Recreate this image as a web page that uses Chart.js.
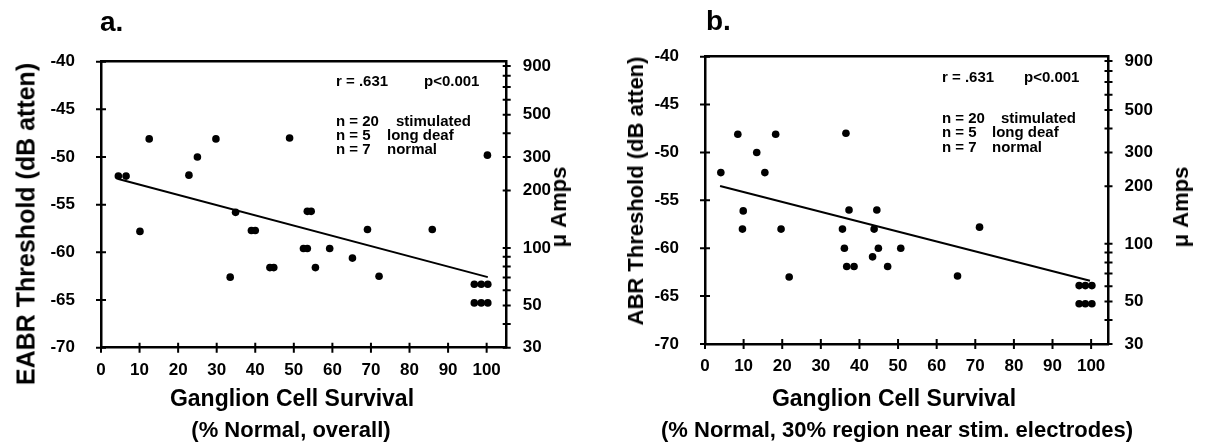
<!DOCTYPE html>
<html>
<head>
<meta charset="utf-8">
<script src="https://cdn.jsdelivr.net/npm/chart.js@4/dist/chart.umd.min.js"></script>
<style>
  body { margin: 0; background: #fff; width: 1209px; height: 446px; overflow: hidden; position: relative;
         font-family: 'Liberation Sans', Arial, sans-serif; font-weight: bold; color: #000; }
  canvas { position: absolute; top: 0; }
  .t { position: absolute; white-space: nowrap; line-height: 1; }
  .c { transform: translate(-50%, -50%); }
  .l { transform: translateY(-50%); }
  .rot { transform: translate(-50%, -50%) rotate(-90deg); }
  .ann { font-size: 15px; }
</style>
</head>
<body>
<canvas id="chartA" width="604" height="446" style="left:0"></canvas>
<canvas id="chartB" width="605" height="446" style="left:604px"></canvas>

<!-- panel a texts -->
<div class="t l" style="left:100px; top:22px; font-size:28px">a.</div>
<div class="t rot" style="left:26px; top:224px; font-size:25px">EABR Threshold (dB atten)</div>
<div class="t rot" style="left:559px; top:207px; font-size:22px">μ Amps</div>
<div class="t c" style="left:292px; top:398px; font-size:23px">Ganglion Cell Survival</div>
<div class="t c" style="left:291px; top:430px; font-size:22px">(% Normal, overall)</div>
<div class="t l ann" style="left:336px; top:80px">r = .631</div>
<div class="t l ann" style="left:424px; top:80px">p&lt;0.001</div>
<div class="t l ann" style="left:336px; top:120px">n = 20</div>
<div class="t l ann" style="left:396px; top:120px">stimulated</div>
<div class="t l ann" style="left:336px; top:134px">n = 5</div>
<div class="t l ann" style="left:387px; top:134px">long deaf</div>
<div class="t l ann" style="left:336px; top:148px">n = 7</div>
<div class="t l ann" style="left:387px; top:148px">normal</div>

<!-- panel b texts -->
<div class="t l" style="left:706px; top:21px; font-size:28px">b.</div>
<div class="t rot" style="left:636px; top:191px; font-size:22px">ABR Threshold (dB atten)</div>
<div class="t rot" style="left:1181px; top:207px; font-size:22px">μ Amps</div>
<div class="t c" style="left:894px; top:398px; font-size:23px">Ganglion Cell Survival</div>
<div class="t c" style="left:897px; top:430px; font-size:22px">(% Normal, 30% region near stim. electrodes)</div>
<div class="t l ann" style="left:942px; top:76px">r = .631</div>
<div class="t l ann" style="left:1024px; top:76px">p&lt;0.001</div>
<div class="t l ann" style="left:942px; top:117px">n = 20</div>
<div class="t l ann" style="left:1001px; top:117px">stimulated</div>
<div class="t l ann" style="left:942px; top:131px">n = 5</div>
<div class="t l ann" style="left:992px; top:131px">long deaf</div>
<div class="t l ann" style="left:942px; top:146px">n = 7</div>
<div class="t l ann" style="left:992px; top:146px">normal</div>

<script>
// ticks
const xTicks = [0, 10, 20, 30, 40, 50, 60, 70, 80, 90, 100];
const dbTicks = [-70, -65, -60, -55, -50, -45, -40];
const ampTicks = [30, 40, 50, 60, 70, 80, 90, 100, 200, 300, 400, 500, 600, 700, 800, 900];
const ampLabels = [30, 50, 100, 200, 300, 500, 900];

// panel a: overall survival vs EABR threshold
const aSurvival = [4.5, 6.5, 12.5, 29.8, 48.9, 25.0, 22.8, 34.9, 53.5, 54.5, 10.1, 39.0, 40.0, 33.5,
  43.8, 44.8, 52.5, 53.5, 59.3, 55.6, 65.2, 69.1, 72.1, 85.9, 96.8, 98.6, 100.3, 96.8, 98.6, 100.3, 100.2];
const aThreshold = [-52.0, -52.0, -48.1, -48.1, -48.0, -50.0, -51.9, -55.8, -55.7, -55.7, -57.8, -57.7, -57.7, -62.6,
  -61.6, -61.6, -59.6, -59.6, -59.6, -61.6, -60.6, -57.6, -62.5, -57.6, -63.35, -63.35, -63.35, -65.3, -65.3, -65.3, -49.8];
const aFitX = [4.5, 100.3];
const aFitY = [-52.3, -62.6];

// panel b: survival in 30% region near electrodes
const bSurvival = [4.1, 8.5, 18.3, 36.5, 13.4, 15.5, 9.9, 37.3, 44.5, 9.7, 19.7, 35.6, 43.8, 21.8, 36.1,
  36.7, 38.6, 43.4, 44.9, 47.3, 50.7, 65.4, 71.1, 96.9, 98.5, 100.2, 96.9, 98.5, 100.2];
const bThreshold = [-52.1, -48.1, -48.1, -48.0, -50.0, -52.1, -56.1, -56.0, -56.0, -58.0, -58.0, -58.0, -58.0, -63.0, -60.0,
  -61.9, -61.9, -60.9, -60.0, -61.9, -60.0, -62.9, -57.8, -63.9, -63.9, -63.9, -65.8, -65.8, -65.8];
const bFitX = [3.9, 99.7];
const bFitY = [-53.5, -63.4];

const FONT = { family: "'Liberation Sans', Arial, sans-serif", weight: 'bold', size: 17 };

// tick marks that cross the axis line, like the original figure
const crossTicks = {
  id: 'crossTicks',
  afterDraw(chart) {
    const ctx = chart.ctx, a = chart.chartArea;
    ctx.save();
    ctx.strokeStyle = '#000';
    ctx.lineWidth = 2;
    ctx.beginPath();
    chart.scales.x.ticks.forEach(t => {
      const p = chart.scales.x.getPixelForValue(t.value);
      ctx.moveTo(p, a.bottom - 5); ctx.lineTo(p, a.bottom + 5);
    });
    chart.scales.y.ticks.forEach(t => {
      const p = chart.scales.y.getPixelForValue(t.value);
      ctx.moveTo(a.left - 5, p); ctx.lineTo(a.left + 5, p);
    });
    chart.scales.y2.ticks.forEach(t => {
      const p = chart.scales.y2.getPixelForValue(t.value);
      ctx.moveTo(a.right - 4, p); ctx.lineTo(a.right + 4, p);
    });
    ctx.stroke();
    ctx.restore();
  }
};

function pts(xs, ys) {
  return xs.map((x, i) => ({ x: x, y: ys[i] }));
}

function makeChart(id, survival, threshold, fitX, fitY, g) {
  const border = { display: true, color: '#000', width: 2.5 };
  return new Chart(document.getElementById(id), {
    type: 'scatter',
    data: {
      datasets: [{
        data: pts(survival, threshold),
        pointRadius: 3.8,
        pointBackgroundColor: '#000',
        pointBorderWidth: 0
      }, {
        type: 'line',
        data: pts(fitX, fitY),
        borderColor: '#000',
        borderWidth: 2,
        pointRadius: 0,
        fill: false
      }]
    },
    options: {
      responsive: false,
      animation: false,
      layout: { padding: { top: g.top, left: 0, right: 0, bottom: 0 } },
      plugins: { legend: { display: false }, tooltip: { enabled: false } },
      scales: {
        x: {
          type: 'linear', min: 0, max: g.xMax,
          afterBuildTicks: s => { s.ticks = xTicks.map(v => ({ value: v })); },
          afterFit: s => { s.height = g.bottom; },
          grid: { display: false },
          border: border,
          ticks: { color: '#000', font: FONT, padding: 4, autoSkip: false, maxRotation: 0 }
        },
        xTop: {
          type: 'linear', position: 'top', min: 0, max: g.xMax,
          afterFit: s => { s.height = 0; },
          grid: { display: false },
          border: border,
          ticks: { display: false }
        },
        y: {
          type: 'linear', position: 'left', min: -70, max: -40,
          afterBuildTicks: s => { s.ticks = dbTicks.map(v => ({ value: v })); },
          afterFit: s => { s.width = g.left; },
          grid: { display: false },
          border: border,
          ticks: { color: '#000', font: FONT, padding: 18, autoSkip: false }
        },
        y2: {
          type: 'logarithmic', position: 'right', min: 30, max: 949,
          afterBuildTicks: s => { s.ticks = ampTicks.map(v => ({ value: v })); },
          afterFit: s => { s.width = g.right; },
          grid: { display: false },
          border: border,
          ticks: {
            color: '#000', font: FONT, padding: 8, autoSkip: false,
            callback: v => ampLabels.includes(v) ? String(v) : ''
          }
        }
      }
    },
    plugins: [crossTicks]
  });
}

makeChart('chartA', aSurvival, aThreshold, aFitX, aFitY,
  { top: 61.7, left: 101, right: 97.3, bottom: 98.3, xMax: 105.2 });
makeChart('chartB', bSurvival, bThreshold, bFitX, bFitY,
  { top: 56.7, left: 101, right: 100.5, bottom: 102, xMax: 104.5 });
</script>
</body>
</html>
